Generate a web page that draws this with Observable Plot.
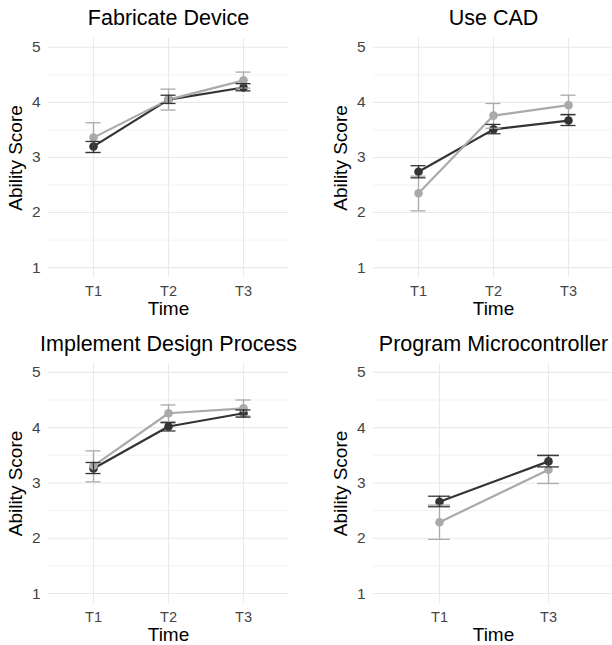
<!DOCTYPE html>
<html><head><meta charset="utf-8">
<script src="https://cdn.jsdelivr.net/npm/d3@7"></script>
<script src="https://cdn.jsdelivr.net/npm/@observablehq/plot@0.6"></script>
<style>
html,body{margin:0;padding:0;background:#fff;}
#chart{position:relative;width:612px;height:645px;overflow:hidden;font-family:"Liberation Sans",Arial,sans-serif;}
#chart svg{position:absolute;overflow:visible;}
#chart svg g[aria-label="y-axis tick label"]{font-size:15.5px;}
#chart svg g[aria-label="x-axis tick label"]{font-size:14.5px;}
</style></head><body><div id="chart"></div>
<script>
const skills = ["Fabricate Device", "Use CAD", "Implement Design Process", "Program Microcontroller"];
const times = ["T1", "T2", "T3"];
const seriesNames = ["Group A", "Group B"];
const seriesColors = ["#333333", "#aaaaaa"];
const yTicks = [1, 2, 3, 4, 5];

// Group A (dark)
const g1Mean = [[3.20, 4.05, 4.27], [2.74, 3.51, 3.67], [3.26, 4.02, 4.26], [2.66, null, 3.39]];
const g1Lo   = [[3.09, 3.98, 4.21], [2.63, 3.43, 3.58], [3.17, 3.94, 4.19], [2.57, null, 3.29]];
const g1Hi   = [[3.29, 4.13, 4.34], [2.85, 3.60, 3.78], [3.37, 4.09, 4.32], [2.76, null, 3.50]];
// Group B (light)
const g2Mean = [[3.36, 4.05, 4.40], [2.35, 3.76, 3.95], [3.31, 4.26, 4.35], [2.29, null, 3.24]];
const g2Lo   = [[3.09, 3.86, 4.26], [2.03, 3.53, 3.77], [3.02, 4.11, 4.21], [1.98, null, 2.99]];
const g2Hi   = [[3.63, 4.24, 4.55], [2.66, 3.98, 4.13], [3.58, 4.41, 4.50], [2.60, null, 3.49]];

const means = [g1Mean, g2Mean], los = [g1Lo, g2Lo], his = [g1Hi, g2Hi];

const panelLeft = [0, 325, 0, 325];
const panelTop = [0, 0, 322, 322];
const panelHeight = [322, 322, 323, 323];
const mTop = [38, 38, 41, 41];
const mBottom = [45, 45, 42, 42];
const titleDy = [-20.5, -20.5, -19.7, -19.7];
const panelW = 240;
const font = "'Liberation Sans', Arial, sans-serif";

const chart = document.getElementById("chart");

skills.forEach((skill, i) => {
  const rows = [];
  seriesNames.forEach((s, k) => {
    times.forEach((t, j) => {
      const m = means[k][i][j];
      if (m != null) rows.push({series: s, k, time: t, mean: m, lo: los[k][i][j], hi: his[k][i][j]});
    });
  });
  const dom = times.filter((t, j) => means[0][i][j] != null);
  const step = panelW / (dom.length - 1 + 1.2);
  const capHalf = 0.1 * step;
  const color = {domain: seriesNames, range: seriesColors};
  const errMarks = [1, 0].flatMap(k => {
    const d = rows.filter(r => r.k === k);
    return [
      Plot.ruleX(d, {x: "time", y1: "lo", y2: "hi", stroke: seriesColors[k], strokeWidth: 1.3}),
      Plot.ruleY(d, {x1: "time", x2: "time", y: "lo", stroke: seriesColors[k], strokeWidth: 1.3, insetLeft: -capHalf, insetRight: -capHalf}),
      Plot.ruleY(d, {x1: "time", x2: "time", y: "hi", stroke: seriesColors[k], strokeWidth: 1.3, insetLeft: -capHalf, insetRight: -capHalf})
    ];
  });
  const p = Plot.plot({
    width: 306,
    height: panelHeight[i],
    marginTop: mTop[i],
    marginBottom: mBottom[i],
    marginLeft: 48,
    marginRight: 18,
    style: {fontFamily: font, background: "transparent", overflow: "visible"},
    x: {type: "point", domain: dom, padding: 0.6},
    y: {domain: [0.82, 5.16]},
    color,
    marks: [
      Plot.ruleY(d3.range(1.5, 5, 1), {stroke: "#efefef", strokeWidth: 0.8}),
      Plot.ruleY(yTicks, {stroke: "#e9e9e9", strokeWidth: 1.1}),
      Plot.ruleX(dom, {stroke: "#e9e9e9", strokeWidth: 1.1}),
      Plot.axisY({ticks: yTicks, tickFormat: d => String(d), tickSize: 0, tickPadding: 8, fontSize: 15.5, color: "#444444", label: null}),
      Plot.axisX({tickSize: 0, tickPadding: 8, fontSize: 14.5, color: "#444444", label: null}),
      Plot.line(rows, {x: "time", y: "mean", z: "series", stroke: "series", strokeWidth: 2.2}),
      Plot.dot(rows, {x: "time", y: "mean", fill: "series", r: 4.3}),
      ...errMarks,
      Plot.text([skill], {frameAnchor: "top", dy: titleDy[i], fontSize: 21.5, fill: "#000", lineAnchor: "middle", textAnchor: "middle"}),
      Plot.text(["Ability Score"], {frameAnchor: "left", dx: -33, rotate: -90, fontSize: 19, fill: "#000", lineAnchor: "middle", textAnchor: "middle"}),
      Plot.text(["Time"], {frameAnchor: "bottom", dy: 31.3, fontSize: 19, fill: "#000", lineAnchor: "middle", textAnchor: "middle"})
    ]
  });
  p.style.left = panelLeft[i] + "px";
  p.style.top = panelTop[i] + "px";
  chart.appendChild(p);
});
</script>
</body></html>
